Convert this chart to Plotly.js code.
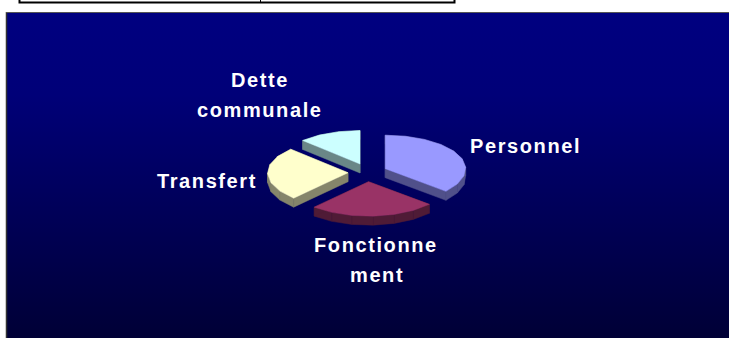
<!DOCTYPE html>
<html><head><meta charset="utf-8">
<script src="https://cdn.plot.ly/plotly-3.0.1.min.js"></script>
<style>html,body{margin:0;padding:0;background:#fff}#c{width:729px;height:338px}
.annotation-text{letter-spacing:1.6px}</style></head><body><div id="c"></div>
<script>
var categories=['Personnel','Fonctionnement','Transfert','Dette communale'];
var values=[36.4,25.4,25.6,12.6];
var topColors=['#9999FF','#993366','#FFFFCC','#CCFFFF'];
var sideColors=['#50508A','#4F1B36','#85856B','#6A8787'];
var labelLines=['Personnel','Fonctionne','ment','Transfert','Dette','communale'];
var labelX=[525,376,377,207,260,260];
var labelY=[146,245,275,181,80,110];
var cx=367.5,cy=172.5,a=80.5,bBack=33.5,bFront=34.5,explodeX=19.5,explodeY=9.2,depth=9,stepDeg=15;
var total=values.reduce(function(s,v){return s+v;},0);
var traces=[];
traces.push({type:'scatter',mode:'none',x:[7,729,729,7,7],y:[13,13,338,338,13],fill:'toself',
 fillgradient:{type:'vertical',colorscale:[[0,'#000036'],[0.5,'#000062'],[0.75,'#000078'],[1,'#000080']]},hoverinfo:'skip',showlegend:false});
var start=0,slices=[];
values.forEach(function(v,i){
 var sweep=v/total*360,end=start+sweep,mid=(start+end)/2*Math.PI/180;
 var ox=cx+explodeX*Math.sin(mid),oy=cy-explodeY*Math.cos(mid);
 var px=[ox],py=[oy],n=Math.max(2,Math.round(sweep/stepDeg));
 for(var k=0;k<=n;k++){var t=(start+sweep*k/n)*Math.PI/180,c=Math.cos(t);
  px.push(ox+a*Math.sin(t));py.push(oy-(c>0?bBack:bFront)*c);}
 slices.push({px:px,py:py,i:i});start=end;
});
slices.forEach(function(s){
 for(var k=0;k<s.px.length;k++){
  var m=(k+1)%s.px.length;
  traces.push({type:'scatter',mode:'lines',x:[s.px[k],s.px[m],s.px[m],s.px[k],s.px[k]],y:[s.py[k],s.py[m],s.py[m]+depth,s.py[k]+depth,s.py[k]],fill:'toself',fillcolor:sideColors[s.i],line:{color:sideColors[s.i],width:0.5},hoverinfo:'skip',showlegend:false});
 }
 traces.push({type:'scatter',mode:'lines',x:s.px.concat(s.px[0]),y:s.py.concat(s.py[0]),fill:'toself',fillcolor:topColors[s.i],line:{color:topColors[s.i],width:0.5},name:categories[s.i],hoverinfo:'name',showlegend:false});
});
var ann=labelLines.map(function(t,i){return {x:labelX[i],y:labelY[i],xref:'x',yref:'y',text:t,showarrow:false,align:'center',font:{family:'Liberation Sans, Arial, sans-serif',size:20,color:'#fff',weight:700}};});
var shapes=[
 {type:'rect',x0:19.5,x1:454.5,y0:-5,y1:2.5,line:{color:'#000',width:2},fillcolor:'rgba(0,0,0,0)'},
 {type:'line',x0:260.5,x1:260.5,y0:0,y1:2,line:{color:'#000',width:1}},
 {type:'line',x0:6.5,x1:6.5,y0:12,y1:338,line:{color:'#333',width:1.5}},
 {type:'line',x0:6,x1:729,y0:12.5,y1:12.5,line:{color:'#555',width:1}}
];
Plotly.newPlot('c',traces,{width:729,height:338,margin:{l:0,r:0,t:0,b:0},paper_bgcolor:'#fff',plot_bgcolor:'#fff',
 xaxis:{range:[0,729],visible:false,fixedrange:true},yaxis:{range:[338,0],visible:false,fixedrange:true},
 annotations:ann,shapes:shapes,showlegend:false},{displayModeBar:false,staticPlot:true});
</script></body></html>
